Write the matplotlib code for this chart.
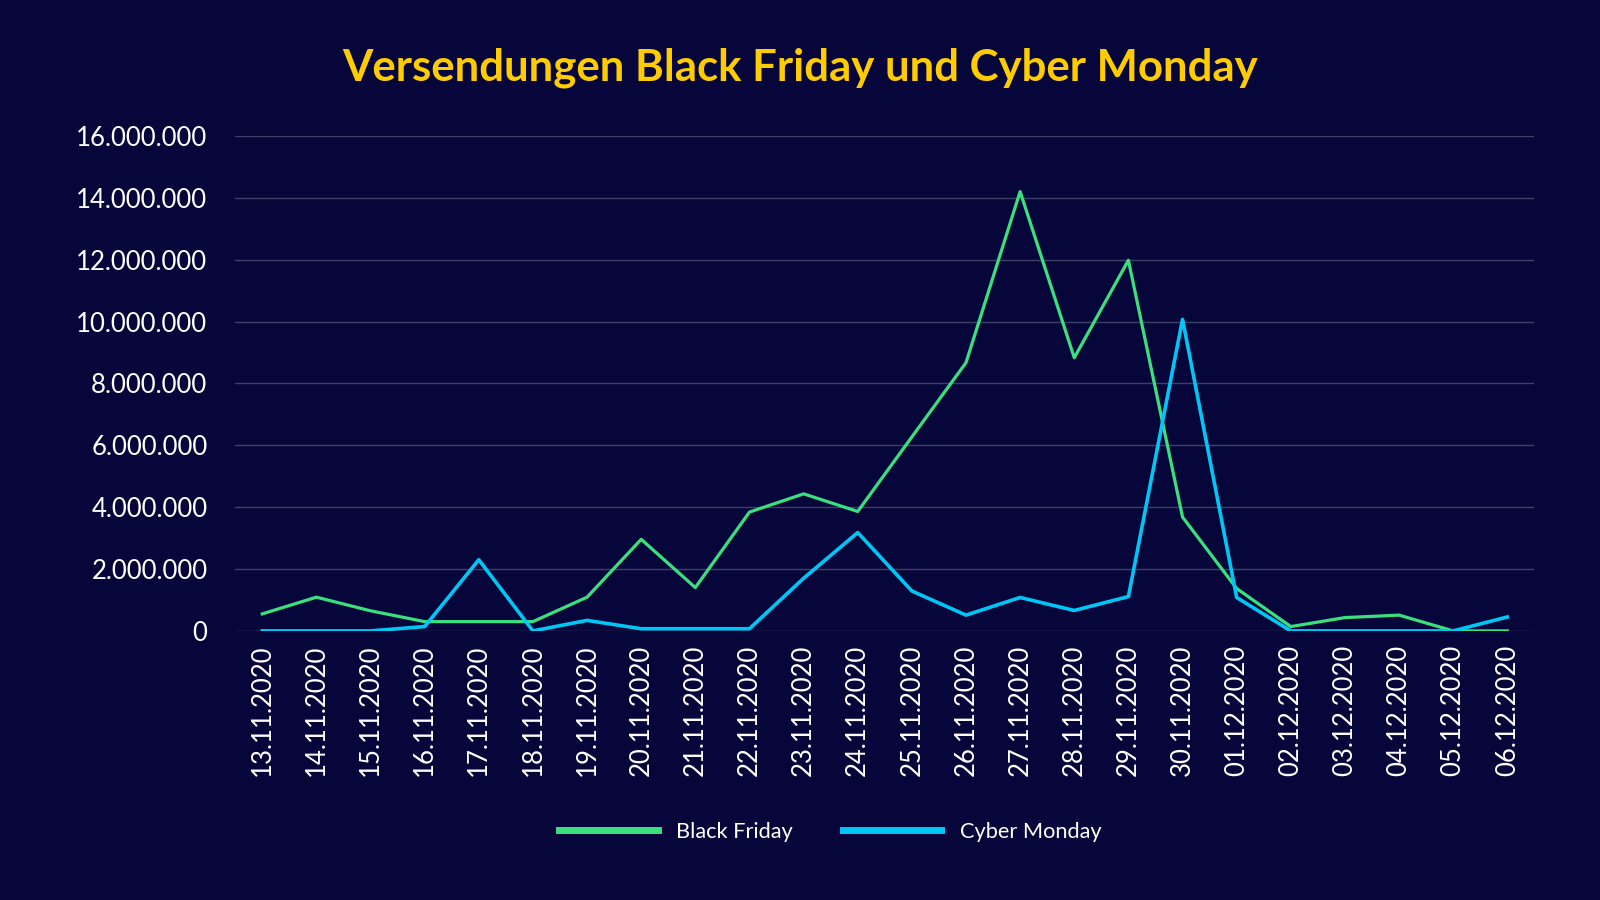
import matplotlib
matplotlib.use("Agg")
import matplotlib.pyplot as plt
from matplotlib.ticker import FuncFormatter

# Data
dates = ["13.11.2020", "14.11.2020", "15.11.2020", "16.11.2020", "17.11.2020", "18.11.2020",
         "19.11.2020", "20.11.2020", "21.11.2020", "22.11.2020", "23.11.2020", "24.11.2020",
         "25.11.2020", "26.11.2020", "27.11.2020", "28.11.2020", "29.11.2020", "30.11.2020",
         "01.12.2020", "02.12.2020", "03.12.2020", "04.12.2020", "05.12.2020", "06.12.2020"]
black_friday = [550000, 1090000, 650000, 300000, 300000, 300000,
                1090000, 2960000, 1400000, 3840000, 4430000, 3860000,
                6270000, 8670000, 14200000, 8830000, 11980000, 3680000,
                1370000, 140000, 430000, 510000, 0, 0]
cyber_monday = [0, 0, 0, 140000, 2300000, 0,
                340000, 70000, 70000, 70000, 1700000, 3180000,
                1290000, 510000, 1080000, 660000, 1110000, 10070000,
                1080000, 0, 0, 0, 0, 450000]
yticks = [0, 2000000, 4000000, 6000000, 8000000, 10000000, 12000000, 14000000, 16000000]

# Colours
bg = '#07063A'
green = '#3BE07E'
cyan = '#00C6F6'
grid = '#3B4266'

plt.rcParams['font.family'] = ['Lato', 'DejaVu Sans']

fig = plt.figure(figsize=(16, 9), dpi=100, facecolor=bg)
ax = fig.add_axes([0.147, 0.299, 0.812, 0.550], facecolor=bg)

x = list(range(len(dates)))
ax.plot(x, black_friday, color=green, linewidth=2.3, label='Black Friday', zorder=3)
ax.plot(x, cyber_monday, color=cyan, linewidth=2.6, label='Cyber Monday', zorder=4)

# Axes and grid
ax.set_xlim(-0.5, len(dates) - 0.5)
ax.set_ylim(0, 16000000)
ax.set_yticks(yticks)
ax.yaxis.set_major_formatter(FuncFormatter(lambda v, p: f'{int(v):,}'.replace(',', '.')))
ax.grid(axis='y', color=grid, linewidth=1.0, zorder=0)
ax.set_xticks(x)
ax.set_xticklabels(dates, rotation=90)
for s in ax.spines.values():
    s.set_visible(False)
ax.tick_params(axis='both', length=0, colors='white', labelsize=18.5)
ax.tick_params(axis='y', pad=20)
ax.tick_params(axis='x', pad=10)

# Title
fig.text(0.5, 0.925, 'Versendungen Black Friday und Cyber Monday', ha='center', va='center',
         color='#FFCC00', fontsize=31.5, fontweight='bold')

# Legend
leg = fig.legend(loc='center', bbox_to_anchor=(0.519, 0.076), ncol=2, frameon=False,
                 fontsize=15.7, handlelength=4.5, handletextpad=0.85, columnspacing=2.3,
                 labelcolor='white')
for h in leg.get_lines():
    h.set_linewidth(5)

fig.savefig('out.png', dpi=100, facecolor=bg)
